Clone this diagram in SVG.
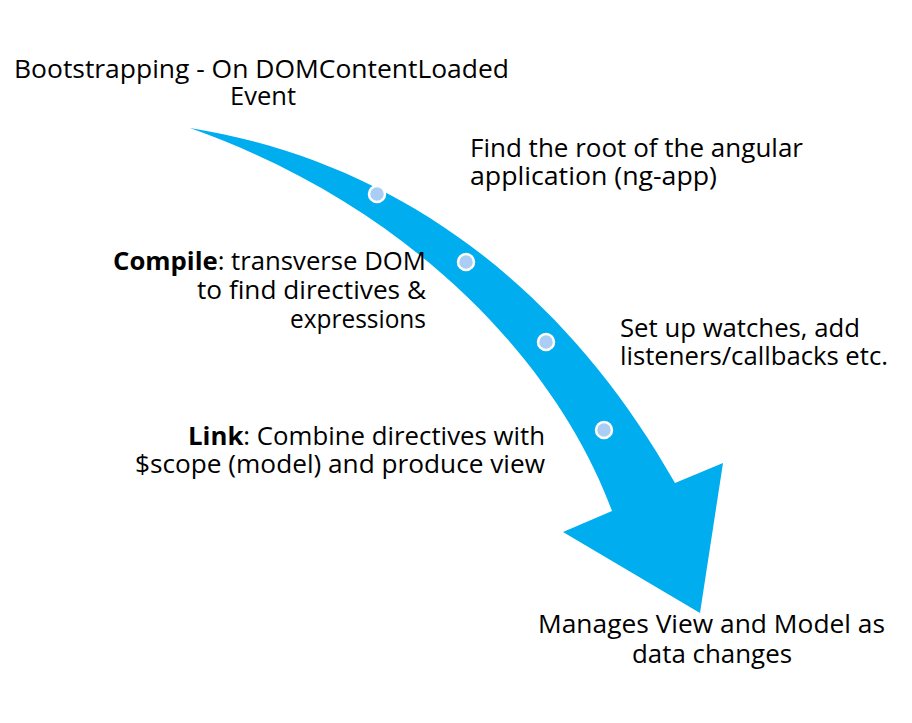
<svg xmlns="http://www.w3.org/2000/svg" width="912" height="723" viewBox="0 0 912 723">
<style>
text{font-family:"Open Sans","Noto Sans","Liberation Sans",sans-serif;font-size:25px;fill:#000}
.b{font-weight:bold}
.dot{fill:#a9cdf4;stroke:#fff;stroke-width:2.5}
</style>
<rect width="912" height="723" fill="#fff"/>
<g id="connectors">
<path id="arrow" d="M190,128 C390,160 560,280 675,483 L723,463 L700,613 L563,532 L612,511 C560,370 420,210 190,128 Z" fill="#00adef"/>
</g>
<g id="dots">
<circle class="dot" cx="377" cy="194" r="8"/>
<circle class="dot" cx="466" cy="262" r="8"/>
<circle class="dot" cx="546" cy="342" r="8"/>
<circle class="dot" cx="604" cy="430" r="8"/>
</g>
<g id="bootstrap">
<text x="14" y="78" textLength="495" lengthAdjust="spacingAndGlyphs">Bootstrapping - On DOMContentLoaded</text>
<text x="263" y="105" text-anchor="middle" textLength="66" lengthAdjust="spacingAndGlyphs">Event</text>
</g>
<g id="root">
<text x="470" y="157" textLength="333" lengthAdjust="spacingAndGlyphs">Find the root of the angular</text>
<text x="470" y="185" textLength="247" lengthAdjust="spacingAndGlyphs">application (ng-app)</text>
</g>
<g id="compile">
<text x="426" y="270" text-anchor="end" textLength="313" lengthAdjust="spacingAndGlyphs"><tspan class="b">Compile</tspan>: transverse DOM</text>
<text x="426" y="299" text-anchor="end" textLength="229" lengthAdjust="spacingAndGlyphs">to find directives &amp;</text>
<text x="426" y="328" text-anchor="end" textLength="136" lengthAdjust="spacingAndGlyphs">expressions</text>
</g>
<g id="watches">
<text x="620" y="337" textLength="240" lengthAdjust="spacingAndGlyphs">Set up watches, add</text>
<text x="620" y="365" textLength="268" lengthAdjust="spacingAndGlyphs">listeners/callbacks etc.</text>
</g>
<g id="link">
<text x="545" y="445" text-anchor="end" textLength="357" lengthAdjust="spacingAndGlyphs"><tspan class="b">Link</tspan>: Combine directives with</text>
<text x="545" y="473" text-anchor="end" textLength="410" lengthAdjust="spacingAndGlyphs">$scope (model) and produce view</text>
</g>
<g id="manages">
<text x="538" y="633" textLength="347" lengthAdjust="spacingAndGlyphs">Manages View and Model as</text>
<text x="632" y="663" textLength="160" lengthAdjust="spacingAndGlyphs">data changes</text>
</g>
</svg>
